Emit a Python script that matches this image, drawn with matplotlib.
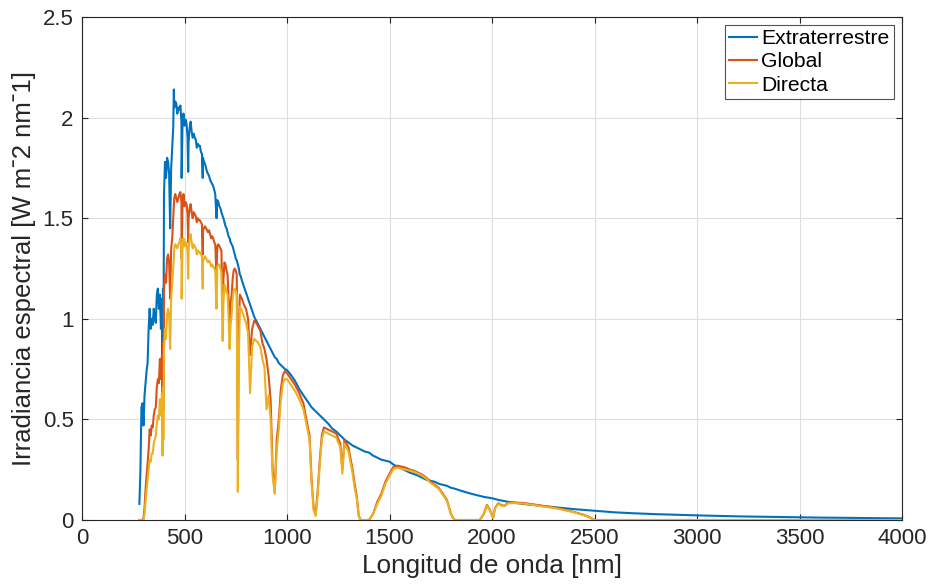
import matplotlib
matplotlib.use("Agg")
import matplotlib.pyplot as plt
import numpy as np

plt.rcParams['font.family'] = ['Liberation Sans', 'DejaVu Sans']

# Wavelength grid [nm]
wavelength = [
    280, 285, 290, 295, 300, 305, 310, 315, 320, 325,
    330, 335, 340, 345, 350, 355, 360, 365, 370, 375,
    380, 385, 390, 393, 395, 397, 400, 405, 410, 415,
    420, 425, 430, 435, 440, 445, 448, 450, 455, 460,
    465, 470, 475, 480, 485, 486, 490, 495, 500, 505,
    510, 515, 518, 520, 525, 530, 535, 540, 545, 550,
    555, 560, 565, 570, 575, 580, 585, 589, 590, 595,
    600, 605, 610, 615, 620, 625, 630, 635, 640, 645,
    650, 656, 660, 665, 670, 675, 680, 686, 690, 695,
    700, 705, 710, 715, 720, 725, 730, 735, 740, 745,
    750, 755, 760, 765, 770, 775, 780, 790, 800, 810,
    820, 830, 840, 850, 860, 870, 880, 890, 900, 910,
    920, 930, 940, 950, 960, 970, 980, 990, 1000, 1020,
    1040, 1060, 1080, 1100, 1110, 1120, 1130, 1140, 1150, 1160,
    1170, 1180, 1200, 1220, 1240, 1260, 1270, 1280, 1300, 1320,
    1330, 1340, 1350, 1360, 1380, 1400, 1420, 1440, 1460, 1480,
    1500, 1520, 1540, 1560, 1580, 1600, 1620, 1640, 1660, 1680,
    1700, 1720, 1740, 1760, 1780, 1800, 1810, 1820, 1850, 1900,
    1940, 1960, 1975, 1990, 2005, 2015, 2030, 2045, 2060, 2080,
    2100, 2150, 2200, 2250, 2300, 2350, 2400, 2450, 2480, 2500,
    2550, 2600, 2700, 2800, 2900, 3000, 3200, 3400, 3600, 3800,
    4000,
]

extraterrestre = [
    0.08, 0.25, 0.56, 0.58, 0.47, 0.62, 0.68, 0.74, 0.78, 0.95,
    1.05, 0.95, 1.00, 0.97, 1.05, 1.00, 0.98, 1.12, 1.15, 1.05,
    1.12, 0.95, 1.10, 0.55, 1.15, 0.70, 1.62, 1.78, 1.70, 1.80,
    1.78, 1.72, 1.45, 1.75, 1.85, 1.95, 2.14, 2.05, 2.08, 2.07,
    2.02, 2.05, 2.04, 2.06, 1.98, 1.70, 1.95, 2.02, 1.96, 1.99,
    1.97, 1.90, 1.73, 1.88, 1.95, 1.98, 1.93, 1.90, 1.92, 1.90,
    1.89, 1.85, 1.87, 1.86, 1.86, 1.83, 1.82, 1.70, 1.80, 1.78,
    1.77, 1.75, 1.73, 1.72, 1.71, 1.69, 1.68, 1.67, 1.66, 1.64,
    1.62, 1.50, 1.59, 1.58, 1.56, 1.55, 1.53, 1.51, 1.50, 1.48,
    1.46, 1.45, 1.43, 1.41, 1.40, 1.38, 1.37, 1.36, 1.34, 1.32,
    1.30, 1.29, 1.27, 1.25, 1.22, 1.21, 1.19, 1.16, 1.13, 1.10,
    1.07, 1.04, 1.01, 0.99, 0.97, 0.95, 0.93, 0.91, 0.89, 0.87,
    0.85, 0.83, 0.81, 0.80, 0.78, 0.77, 0.76, 0.75, 0.745, 0.72,
    0.69, 0.65, 0.62, 0.59, 0.575, 0.56, 0.55, 0.54, 0.53, 0.52,
    0.51, 0.50, 0.48, 0.455, 0.44, 0.42, 0.41, 0.40, 0.385, 0.37,
    0.365, 0.36, 0.355, 0.35, 0.34, 0.335, 0.32, 0.31, 0.30, 0.295,
    0.29, 0.275, 0.265, 0.255, 0.245, 0.235, 0.228, 0.22, 0.21, 0.20,
    0.195, 0.19, 0.18, 0.175, 0.17, 0.16, 0.158, 0.155, 0.145, 0.13,
    0.12, 0.115, 0.112, 0.11, 0.107, 0.104, 0.10, 0.097, 0.094, 0.09,
    0.087, 0.08, 0.075, 0.069, 0.064, 0.059, 0.054, 0.05, 0.048, 0.046,
    0.042, 0.038, 0.033, 0.029, 0.026, 0.023, 0.018, 0.015, 0.012, 0.010,
    0.008,
]

global_irr = [
    0.0, 0.0, 0.0, 0.0, 0.01, 0.06, 0.15, 0.22, 0.28, 0.35,
    0.45, 0.42, 0.47, 0.46, 0.52, 0.55, 0.56, 0.66, 0.70, 0.68,
    0.80, 0.70, 0.82, 0.45, 0.88, 0.55, 1.15, 1.22, 1.18, 1.30,
    1.32, 1.28, 1.10, 1.35, 1.40, 1.50, 1.55, 1.60, 1.62, 1.60,
    1.58, 1.60, 1.62, 1.63, 1.58, 1.30, 1.55, 1.62, 1.56, 1.58,
    1.57, 1.52, 1.38, 1.50, 1.55, 1.57, 1.53, 1.50, 1.53, 1.52,
    1.51, 1.48, 1.50, 1.49, 1.49, 1.48, 1.47, 1.32, 1.44, 1.45,
    1.46, 1.45, 1.44, 1.43, 1.44, 1.42, 1.40, 1.41, 1.40, 1.38,
    1.37, 1.22, 1.36, 1.37, 1.36, 1.35, 1.34, 1.05, 1.20, 1.28,
    1.27, 1.24, 1.22, 1.10, 0.98, 1.08, 1.12, 1.20, 1.24, 1.25,
    1.24, 1.22, 0.30, 0.95, 1.12, 1.11, 1.10, 1.07, 1.05, 1.00,
    0.82, 0.95, 0.99, 0.98, 0.96, 0.94, 0.88, 0.85, 0.80, 0.72,
    0.60, 0.25, 0.14, 0.40, 0.50, 0.65, 0.72, 0.74, 0.73, 0.70,
    0.67, 0.63, 0.58, 0.47, 0.42, 0.20, 0.06, 0.03, 0.15, 0.30,
    0.42, 0.46, 0.45, 0.44, 0.43, 0.38, 0.25, 0.40, 0.36, 0.25,
    0.18, 0.12, 0.02, 0.0, 0.0, 0.0, 0.03, 0.09, 0.13, 0.19,
    0.23, 0.265, 0.27, 0.265, 0.26, 0.25, 0.245, 0.235, 0.225, 0.21,
    0.19, 0.175, 0.16, 0.13, 0.10, 0.03, 0.01, 0.0, 0.0, 0.0,
    0.0, 0.03, 0.075, 0.05, 0.01, 0.06, 0.083, 0.075, 0.07, 0.086,
    0.087, 0.085, 0.078, 0.07, 0.063, 0.052, 0.04, 0.025, 0.012, 0.0,
    0.0, 0.0, 0.0, 0.0, 0.0, 0.0, 0.0, 0.0, 0.0, 0.0,
    0.0,
]

directa = [
    0.0, 0.0, 0.0, 0.0, 0.0, 0.03, 0.09, 0.15, 0.20, 0.25,
    0.30, 0.29, 0.33, 0.33, 0.38, 0.40, 0.42, 0.48, 0.52, 0.50,
    0.60, 0.52, 0.63, 0.32, 0.66, 0.40, 0.85, 0.95, 0.90, 1.02,
    1.05, 1.02, 0.85, 1.10, 1.18, 1.26, 1.30, 1.35, 1.37, 1.36,
    1.35, 1.37, 1.38, 1.40, 1.36, 1.10, 1.34, 1.40, 1.36, 1.38,
    1.37, 1.33, 1.20, 1.34, 1.40, 1.42, 1.38, 1.35, 1.37, 1.36,
    1.35, 1.32, 1.34, 1.33, 1.33, 1.32, 1.31, 1.15, 1.28, 1.30,
    1.31, 1.30, 1.29, 1.28, 1.29, 1.28, 1.26, 1.27, 1.26, 1.25,
    1.24, 1.05, 1.26, 1.27, 1.27, 1.25, 1.23, 0.89, 1.08, 1.17,
    1.16, 1.13, 1.12, 1.00, 0.85, 0.97, 1.02, 1.10, 1.14, 1.15,
    1.14, 1.12, 0.14, 0.80, 1.06, 1.05, 1.04, 1.01, 0.98, 0.93,
    0.63, 0.86, 0.90, 0.89, 0.88, 0.86, 0.80, 0.76, 0.55, 0.62,
    0.50, 0.22, 0.13, 0.35, 0.45, 0.60, 0.68, 0.70, 0.70, 0.67,
    0.64, 0.60, 0.55, 0.45, 0.40, 0.18, 0.05, 0.02, 0.13, 0.28,
    0.40, 0.44, 0.43, 0.42, 0.41, 0.36, 0.23, 0.38, 0.34, 0.23,
    0.16, 0.11, 0.02, 0.0, 0.0, 0.0, 0.03, 0.08, 0.12, 0.18,
    0.22, 0.255, 0.26, 0.255, 0.25, 0.245, 0.24, 0.23, 0.22, 0.205,
    0.185, 0.17, 0.155, 0.125, 0.095, 0.03, 0.01, 0.0, 0.0, 0.0,
    0.0, 0.03, 0.072, 0.048, 0.01, 0.058, 0.08, 0.072, 0.068, 0.083,
    0.084, 0.082, 0.075, 0.067, 0.06, 0.05, 0.038, 0.023, 0.011, 0.0,
    0.0, 0.0, 0.0, 0.0, 0.0, 0.0, 0.0, 0.0, 0.0, 0.0,
    0.0,
]

series_labels = ["Extraterrestre", "Global", "Directa"]
xticks = [0, 500, 1000, 1500, 2000, 2500, 3000, 3500, 4000]
yticks = [0, 0.5, 1, 1.5, 2, 2.5]

colors = ["#0072BD", "#D95319", "#EDB120"]
axcol = "#262626"

fig = plt.figure(figsize=(9.3, 5.87), dpi=100)
ax = fig.add_axes([82/930, 67/587, 820/930, 503/587])

for vals, lab, c in zip([extraterrestre, global_irr, directa], series_labels, colors):
    ax.plot(wavelength, vals, color=c, lw=1.5, label=lab)

ax.set_xlim(0, 4000)
ax.set_ylim(0, 2.5)
ax.set_xticks(xticks)
ax.set_xticklabels([str(t) for t in xticks])
ax.set_yticks(yticks)
ax.set_yticklabels(["0", "0.5", "1", "1.5", "2", "2.5"])
ax.grid(True, color="#dedede", lw=0.8)
ax.set_axisbelow(True)
ax.tick_params(direction="in", length=4.5, width=0.8, colors=axcol,
               labelsize=16, top=True, right=True, pad=6)
for sp in ax.spines.values():
    sp.set_color(axcol)
    sp.set_linewidth(0.8)

ax.set_xlabel("Longitud de onda [nm]", fontsize=18.8, color=axcol, labelpad=3)
ax.set_ylabel("Irradiancia espectral [W m\u02c92 nm\u02c91]", fontsize=18.5,
              color=axcol, labelpad=5)

leg = ax.legend(loc="upper right", bbox_to_anchor=(0.9902, 0.9841),
                borderaxespad=0, fontsize=15.2, frameon=True, fancybox=False,
                handlelength=1.35, handletextpad=0.2, labelspacing=0.2,
                borderpad=0.2)
leg.get_frame().set_edgecolor(axcol)
leg.get_frame().set_linewidth(0.8)
for t in leg.get_texts():
    t.set_color("#000000")

fig.savefig("out.png", dpi=100)
